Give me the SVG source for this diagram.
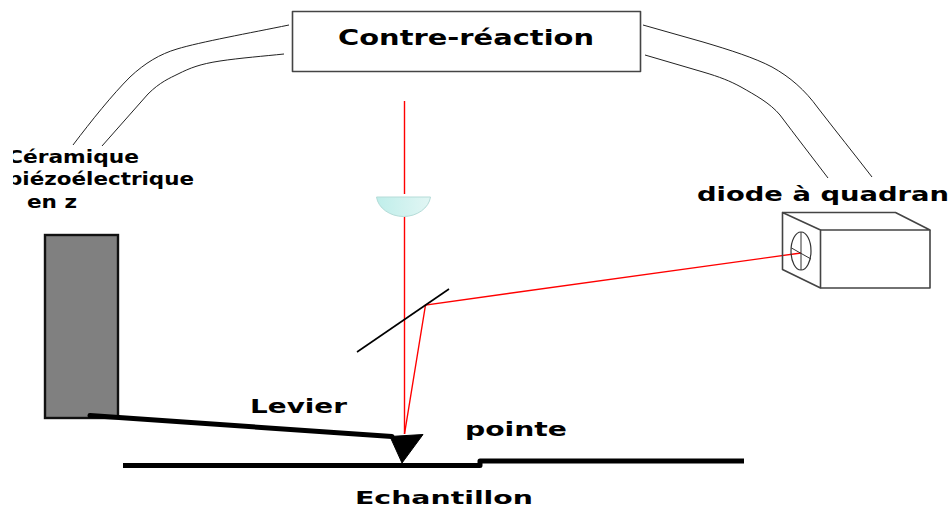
<svg xmlns="http://www.w3.org/2000/svg" width="949" height="508" viewBox="0 0 949 508">
<style>
.t{font-family:"DejaVu Sans","Liberation Sans",sans-serif;font-weight:bold;fill:#000}
.wire{fill:none;stroke:#222;stroke-width:1}
.red{fill:none;stroke:#f00;stroke-width:1.4}
.edge{fill:none;stroke:#444;stroke-width:1.6;stroke-linejoin:round}
</style>
<defs>
<linearGradient id="lens" x1="0" x2="1" y1="0" y2="0"><stop offset="0" stop-color="#bfeeea"/><stop offset="1" stop-color="#e2f6f4"/></linearGradient>
<clipPath id="leftclip"><rect x="13" y="140" width="200" height="80"/></clipPath>
</defs>
<rect width="949" height="508" fill="#fff"/>
<g id="connectors">
<path class="wire" d="M73 145C92 120 112 95 130 77C145 63 160 54 177 49C200 42 250 33 289 25"/>
<path class="wire" d="M102 146L148 94C160 82 170 78 178 74C190 68 200 64 220 61C240 58 265 56 284 54"/>
<path class="wire" d="M643 25L703 42C730 50 755 58 772 67C790 77 805 90 818 108C835 130 855 155 872 177"/>
<path class="wire" d="M645 55L703 72C720 77 730 81 741 87C755 95 770 103 780 115C795 135 812 157 828 178"/>
<path class="red" d="M404.500 101V194M404.500 217V434"/>
<path class="red" d="M404.500 434L425.500 305L801 253"/>
</g>
<g id="contre-reaction">
<rect class="edge" x="292.500" y="11.500" width="348" height="60"/>
<text class="t" x="338" y="45" font-size="22" textLength="256" lengthAdjust="spacingAndGlyphs">Contre-réaction</text>
</g>
<g id="ceramique">
<rect x="45" y="235" width="73" height="183" fill="#808080" stroke="#111" stroke-width="2.400"/>
<g clip-path="url(#leftclip)">
<text class="t" x="7" y="163" font-size="18" textLength="132" lengthAdjust="spacingAndGlyphs">Céramique</text>
<text class="t" x="7" y="185" font-size="18" textLength="187" lengthAdjust="spacingAndGlyphs">piézoélectrique</text>
</g>
<text class="t" x="27" y="208" font-size="18" textLength="50" lengthAdjust="spacingAndGlyphs">en z</text>
</g>
<g id="lentille">
<path d="M376.500 197H430.500C429 208 417 216.500 403.500 216.500C390 216.500 378 208 376.500 197Z" fill="url(#lens)" stroke="#b5dcd8" stroke-width="1"/>
</g>
<g id="miroir">
<line x1="357" y1="352" x2="449" y2="289" stroke="#000" stroke-width="1.600"/>
</g>
<g id="diode">
<path class="edge" d="M782.500 212.500L820.500 230V288L782.500 269.500Z"/>
<path class="edge" d="M782.500 212.500H895.500L930 230H820.500"/>
<path class="edge" d="M930 230V288H820.500"/>
<ellipse cx="801" cy="251" rx="10" ry="19" fill="none" stroke="#333" stroke-width="1.200"/>
<path d="M801 232V270M791.500 248L811 259" fill="none" stroke="#333" stroke-width="1"/>
<text class="t" x="697" y="201" font-size="20" textLength="252" lengthAdjust="spacingAndGlyphs">diode à quadran</text>
</g>
<g id="levier">
<path d="M90 415.500L392 436.500" fill="none" stroke="#000" stroke-width="5" stroke-linecap="round"/>
<path d="M390 436.500L423 434.500L402 463Z" fill="#000" stroke="#000" stroke-linejoin="round"/>
<text class="t" x="250" y="413" font-size="20" textLength="97" lengthAdjust="spacingAndGlyphs">Levier</text>
<text class="t" x="465" y="436" font-size="20" textLength="102" lengthAdjust="spacingAndGlyphs">pointe</text>
</g>
<g id="echantillon">
<path d="M123 465.500H480V461H744" fill="none" stroke="#000" stroke-width="5" stroke-linejoin="round"/>
<text class="t" x="355" y="503.500" font-size="18" textLength="178" lengthAdjust="spacingAndGlyphs">Echantillon</text>
</g>
</svg>
